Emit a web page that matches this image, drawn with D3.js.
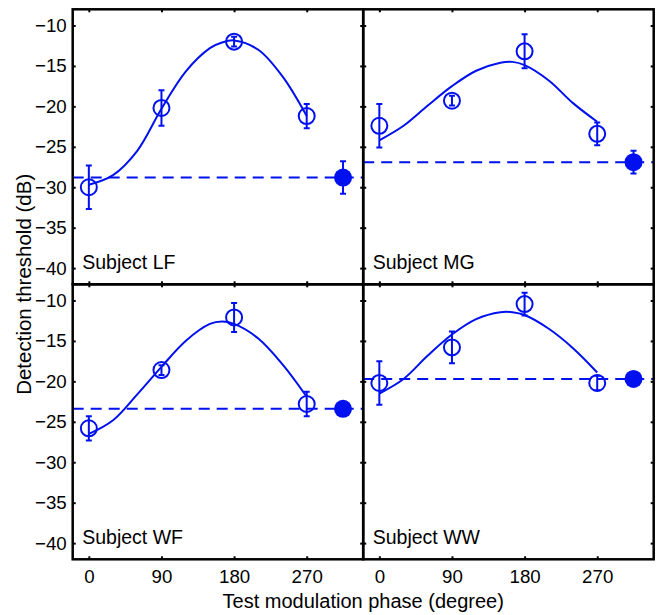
<!DOCTYPE html>
<html>
<head>
<meta charset="utf-8">
<script src="https://cdn.jsdelivr.net/npm/d3@7"></script>
<style>
  body { margin: 0; background: #fff; }
  text { font-family: "Liberation Sans", Helvetica, Arial, sans-serif; }
</style>
</head>
<body>
<svg id="chart" width="656" height="615"></svg>
<script>
// data
const phases = [0, 90, 180, 270];
const refPhase = 315; // filled dot (reference condition)
const fitPhases = [0, 30, 60, 90, 120, 150, 165, 180, 210, 240, 270];
const xTicks = [0, 90, 180, 270];
const yTicks = [-10, -15, -20, -25, -30, -35, -40];

const thrLF = [-30.0, -20.2, -12.0, -21.2];
const errLF = [2.7, 2.2, 0.6, 1.5];
const refLF = [-28.8, 2.0];
const fitLF = [-29.7, -28.5, -25.5, -20.3, -15.7, -12.8, -12.1, -11.85, -13.0, -16.3, -21.2];

const thrMG = [-22.4, -19.3, -13.2, -23.4];
const errMG = [2.7, 0.6, 2.1, 1.4];
const refMG = [-26.9, 1.4];
const fitMG = [-24.2, -22.4, -19.9, -17.5, -15.6, -14.6, -14.5, -14.9, -16.8, -19.6, -21.9];

const thrWF = [-25.8, -18.6, -12.1, -22.8];
const errWF = [1.5, 0.6, 1.8, 1.5];
const refWF = [-23.4, 0.5];
const fitWF = [-26.5, -24.8, -21.6, -18.2, -15.0, -12.9, -12.6, -12.9, -14.7, -17.9, -21.9];

const thrWW = [-20.2, -15.8, -10.45, -20.2];
const errWW = [2.7, 1.95, 1.4, 0.9];
const refWW = [-19.7, 0.6];
const fitWW = [-21.5, -19.7, -16.8, -14.2, -12.3, -11.45, -11.45, -11.8, -13.5, -15.9, -18.9];

const panels = [
  {name: "Subject LF", thr: thrLF, err: errLF, ref: refLF, fit: fitLF, col: 0, row: 0},
  {name: "Subject MG", thr: thrMG, err: errMG, ref: refMG, fit: fitMG, col: 1, row: 0},
  {name: "Subject WF", thr: thrWF, err: errWF, ref: refWF, fit: fitWF, col: 0, row: 1},
  {name: "Subject WW", thr: thrWW, err: errWW, ref: refWW, fit: fitWW, col: 1, row: 1}
];

const blue = "#0010ee";
const padL = 72.7, padT = 9.3, pw = 290.5, ph = 275;

const svg = d3.select("#chart");
svg.append("rect").attr("width", 656).attr("height", 615).attr("fill", "#fff");

const x = d3.scaleLinear().domain([-20, 340]).range([0, pw]);
const y = d3.scaleLinear().domain([-42, -8]).range([ph, 0]);

const line = d3.line()
  .x((d, i) => x(fitPhases[i]))
  .y(d => y(d))
  .curve(d3.curveCatmullRom.alpha(0.5));

panels.forEach((p, k) => {
  const g = svg.append("g")
    .attr("transform", `translate(${padL + p.col * pw},${padT + p.row * ph})`);

  g.append("clipPath").attr("id", "clip" + k)
    .append("rect").attr("width", pw).attr("height", ph);

  const plot = g.append("g").attr("clip-path", `url(#clip${k})`);

  // dashed reference level
  plot.append("line")
    .attr("x1", 0).attr("x2", pw)
    .attr("y1", y(p.ref[0])).attr("y2", y(p.ref[0]))
    .attr("stroke", blue).attr("stroke-width", 2)
    .attr("stroke-dasharray", "11,7");

  // fitted curve
  plot.append("path")
    .datum(p.fit)
    .attr("d", line)
    .attr("fill", "none").attr("stroke", blue).attr("stroke-width", 2);

  // error bars
  const bars = phases.map((ph_, i) => ({x: ph_, v: p.thr[i], e: p.err[i]}))
    .concat([{x: refPhase, v: p.ref[0], e: p.ref[1]}]);
  const eb = plot.selectAll(".eb").data(bars).enter().append("g")
    .attr("stroke", blue).attr("stroke-width", 2);
  eb.append("line")
    .attr("x1", d => x(d.x)).attr("x2", d => x(d.x))
    .attr("y1", d => y(d.v + d.e)).attr("y2", d => y(d.v - d.e));
  eb.append("line")
    .attr("x1", d => x(d.x) - 3).attr("x2", d => x(d.x) + 3)
    .attr("y1", d => y(d.v + d.e)).attr("y2", d => y(d.v + d.e));
  eb.append("line")
    .attr("x1", d => x(d.x) - 3).attr("x2", d => x(d.x) + 3)
    .attr("y1", d => y(d.v - d.e)).attr("y2", d => y(d.v - d.e));

  // open circles
  plot.selectAll(".pt").data(p.thr).enter().append("circle")
    .attr("cx", (d, i) => x(phases[i])).attr("cy", d => y(d))
    .attr("r", 8).attr("fill", "none")
    .attr("stroke", blue).attr("stroke-width", 2);

  // filled dot
  plot.append("circle")
    .attr("cx", x(refPhase)).attr("cy", y(p.ref[0]))
    .attr("r", 9).attr("fill", blue);

  // axes: inward ticks on all four sides
  const axL = d3.axisLeft(y).tickValues(yTicks).tickSize(-3).tickPadding(6);
  if (p.col === 1) axL.tickFormat("");
  const axB = d3.axisBottom(x).tickValues(xTicks).tickSize(-3).tickPadding(10);
  if (p.row === 0) axB.tickFormat("");
  const axR = d3.axisRight(y).tickValues(yTicks).tickSize(-3).tickFormat("");
  const axT = d3.axisTop(x).tickValues(xTicks).tickSize(-3).tickFormat("");

  const gl = g.append("g").call(axL);
  const gb = g.append("g").attr("transform", `translate(0,${ph})`).call(axB);
  const gr = g.append("g").attr("transform", `translate(${pw},0)`).call(axR);
  const gt = g.append("g").call(axT);
  [gl, gb, gr, gt].forEach(a => {
    a.select(".domain").remove();
    a.selectAll(".tick line").attr("stroke", "#000").attr("stroke-width", 2);
    a.selectAll("text").attr("fill", "#000").style("font-size", "18.7px")
      .style("font-family", "'Liberation Sans', Helvetica, Arial, sans-serif");
  });

  g.append("rect").attr("width", pw).attr("height", ph)
    .attr("fill", "none").attr("stroke", "#000").attr("stroke-width", 2.5);

  g.append("text")
    .attr("x", 9.5).attr("y", ph - 15.5)
    .style("font-size", "19.5px")
    .text(p.name);
});

svg.append("text")
  .attr("x", padL + pw).attr("y", 608)
  .attr("text-anchor", "middle")
  .style("font-size", "20px")
  .text("Test modulation phase (degree)");

svg.append("text")
  .attr("transform", `translate(31,${padT + ph}) rotate(-90)`)
  .attr("text-anchor", "middle")
  .style("font-size", "20.5px")
  .text("Detection threshold (dB)");
</script>
</body>
</html>
